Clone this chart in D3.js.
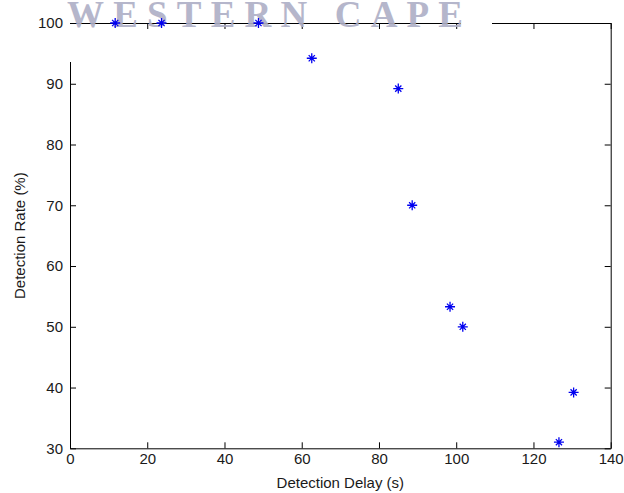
<!DOCTYPE html>
<html>
<head>
<meta charset="utf-8">
<script src="https://cdn.jsdelivr.net/npm/d3@7"></script>
<style>
  html, body { margin: 0; padding: 0; background: #fff; }
  svg { display: block; }
  .tick text { font-family: "Liberation Sans", Arial, sans-serif; font-size: 15px; fill: #1a1a1a; }
  .domain, .tick line { stroke: #000; stroke-width: 1; }
</style>
</head>
<body>
<svg id="chart" width="624" height="493"></svg>
<script>
// Detection delay (s) vs. detection rate (%)
const delays = [11.7, 23.7, 48.8, 62.6, 85.0, 88.6, 98.4, 101.7, 126.6, 130.4];
const rates  = [100, 100, 100, 94.2, 89.2, 70.0, 53.3, 50.0, 31.0, 39.2];

const xTicks = [0, 20, 40, 60, 80, 100, 120, 140];
const yTicks = [30, 40, 50, 60, 70, 80, 90, 100];

const xLabel = "Detection Delay (s)";
const yLabel = "Detection Rate (%)";
const watermark = "WESTERN CAPE";

const svg = d3.select("#chart");
const plotLeft = 70, plotRight = 610.7, plotTop = 23, plotBottom = 448.3;

const x = d3.scaleLinear().domain([0, 140]).range([plotLeft, plotRight]);
const y = d3.scaleLinear().domain([30, 100]).range([plotBottom, plotTop]);

// Box axes with inward ticks on all four sides
svg.append("g").attr("transform", `translate(0,${plotBottom})`)
  .call(d3.axisBottom(x).tickValues(xTicks).tickSizeInner(-6).tickSizeOuter(0).tickPadding(5));
svg.append("g").attr("transform", `translate(${plotLeft},0)`)
  .call(d3.axisLeft(y).tickValues(yTicks).tickSizeInner(-6).tickSizeOuter(0).tickPadding(7));
svg.append("g").attr("transform", `translate(0,${plotTop})`)
  .call(d3.axisTop(x).tickValues(xTicks).tickSizeInner(-6).tickSizeOuter(0).tickFormat(""));
svg.append("g").attr("transform", `translate(${plotRight},0)`)
  .call(d3.axisRight(y).tickValues(yTicks).tickSizeInner(-6).tickSizeOuter(0).tickFormat(""));

// Logo band across the top edge, knocking out part of the frame
svg.append("rect").attr("x", plotLeft - 2).attr("y", plotTop + 1).attr("width", 4).attr("height", 38).attr("fill", "#fff");
svg.append("rect").attr("x", 461).attr("y", plotTop - 2).attr("width", 31).attr("height", 4).attr("fill", "#fff");
svg.append("text")
  .attr("x", 67).attr("y", 27)
  .attr("textLength", 396).attr("lengthAdjust", "spacing")
  .style("font-family", "'Liberation Serif', 'Times New Roman', serif")
  .style("font-weight", "bold")
  .style("font-size", "37px")
  .style("fill", "#aeafc6")
  .style("opacity", 0.9)
  .text(watermark);

// Axis titles
svg.append("text")
  .attr("x", (plotLeft + plotRight) / 2).attr("y", 488)
  .attr("text-anchor", "middle")
  .style("font-family", "'Liberation Sans', Arial, sans-serif")
  .style("font-size", "15px").style("fill", "#1a1a1a")
  .text(xLabel);
svg.append("text")
  .attr("transform", `translate(25,${(plotTop + plotBottom) / 2}) rotate(-90)`)
  .attr("text-anchor", "middle")
  .style("font-family", "'Liberation Sans', Arial, sans-serif")
  .style("font-size", "15px").style("fill", "#1a1a1a")
  .text(yLabel);

// Asterisk marker: a plus with a shorter cross laid over it
const asterisk = {
  draw(ctx, size) {
    const r = Math.sqrt(size) / 2, d = r * 0.62;
    ctx.moveTo(-r, 0); ctx.lineTo(r, 0);
    ctx.moveTo(0, -r); ctx.lineTo(0, r);
    ctx.moveTo(-d, -d); ctx.lineTo(d, d);
    ctx.moveTo(-d, d); ctx.lineTo(d, -d);
  }
};
const sym = d3.symbol().type(asterisk).size(100);

svg.append("g").selectAll("path")
  .data(delays.map((d, i) => [d, rates[i]]))
  .join("path")
  .attr("transform", d => `translate(${x(d[0])},${y(d[1])})`)
  .attr("d", sym)
  .attr("fill", "none")
  .attr("stroke", "#0000f0")
  .attr("stroke-width", 1.3);
</script>
</body>
</html>
